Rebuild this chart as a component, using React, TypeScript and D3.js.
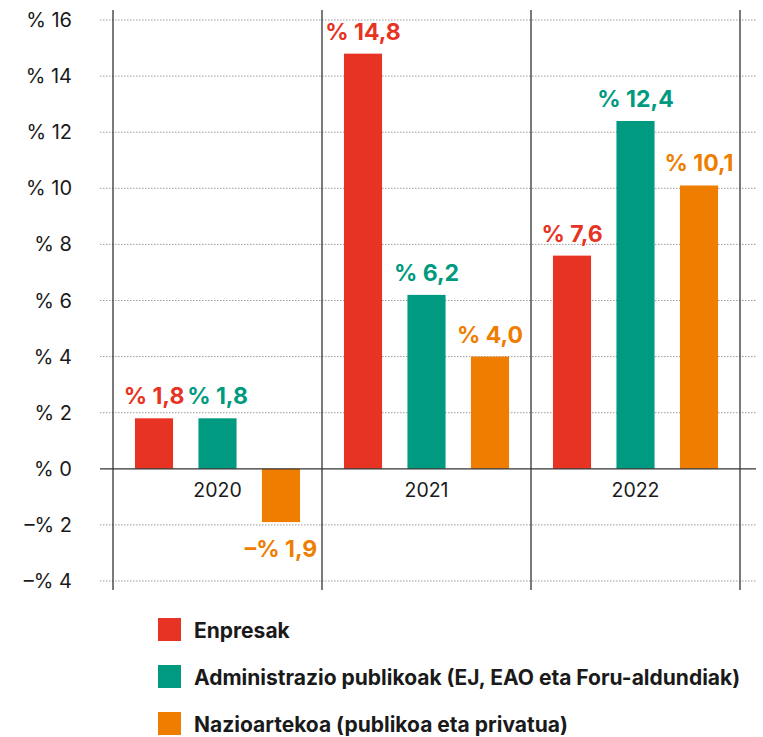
import React from 'react';
import * as d3 from 'd3';

const width = 763;
const height = 737;

const years = ['2020', '2021', '2022'];
const seriesNames = [
  'Enpresak',
  'Administrazio publikoak (EJ, EAO eta Foru-aldundiak)',
  'Nazioartekoa (publikoa eta privatua)',
];
const seriesColors = ['#e63323', '#009a80', '#ef7d00'];
const enpresak = [1.8, 14.8, 7.6];
const administrazioa = [1.8, 6.2, 12.4];
const nazioartekoa = [-1.9, 4.0, 10.1];
const yTicks = [-4, -2, 0, 2, 4, 6, 8, 10, 12, 14, 16];

const values = [enpresak, administrazioa, nazioartekoa];
const font = 'Inter, "Open Sans", sans-serif';

const fmt = (v: number, digits: number) => {
  const s = Math.abs(v).toFixed(digits).replace('.', ',');
  return (v < 0 ? '–% ' : '% ') + s;
};

export default function App() {
  const left = 113;
  const right = 740;
  const y = d3.scaleLinear().domain([-4, 16]).range([581, 20]);
  const x0 = d3.scaleBand<string>().domain(years).range([left, right]).padding(0);
  const x1 = d3
    .scaleBand<number>()
    .domain([0, 1, 2])
    .range([0, x0.bandwidth()])
    .paddingInner(0.4)
    .paddingOuter(0.346);

  const separators = [left, ...years.map((yr) => (x0(yr) as number) + x0.bandwidth())];

  return (
    <svg width={width} height={height} style={{ position: 'absolute', left: 0, top: 0 }}>
      {yTicks.map((t) => (
        <g key={t}>
          {t !== 0 && (
            <line
              x1={100}
              x2={756}
              y1={y(t)}
              y2={y(t)}
              stroke="#9a9a9a"
              strokeWidth={1}
              strokeDasharray="1.5,1.5"
            />
          )}
          <text
            x={72}
            y={y(t)}
            dy="0.35em"
            textAnchor="end"
            fontFamily={font}
            fontSize={20}
            fill="#1a1a1a"
          >
            {t === 0 ? '% 0' : fmt(t, 0)}
          </text>
        </g>
      ))}
      {separators.map((sx, i) => (
        <line key={i} x1={sx} x2={sx} y1={10} y2={590} stroke="#333" strokeWidth={1.3} />
      ))}
      {values.map((vals, si) =>
        vals.map((v, gi) => {
          const bx = (x0(years[gi]) as number) + (x1(si) as number);
          const bw = x1.bandwidth();
          const top = y(Math.max(0, v));
          const h = Math.abs(y(v) - y(0));
          const ly = v >= 0 ? y(v) - 14 : y(v) + 35;
          return (
            <g key={si + '-' + gi}>
              <rect x={bx} y={top} width={bw} height={h} fill={seriesColors[si]} />
              <text
                x={bx + bw / 2}
                y={ly}
                textAnchor="middle"
                fontFamily={font}
                fontWeight={700}
                fontSize={23}
                fill={seriesColors[si]}
              >
                {fmt(v, 1)}
              </text>
            </g>
          );
        })
      )}
      <line x1={100} x2={756} y1={y(0)} y2={y(0)} stroke="#333" strokeWidth={1.3} />
      {years.map((yr) => (
        <text
          key={yr}
          x={(x0(yr) as number) + x0.bandwidth() / 2}
          y={y(0) + 28}
          textAnchor="middle"
          fontFamily={font}
          fontSize={19.5}
          fill="#1a1a1a"
        >
          {yr}
        </text>
      ))}
      {seriesNames.map((name, i) => (
        <g key={name} transform={`translate(158, ${618 + i * 47})`}>
          <rect width={23} height={23} fill={seriesColors[i]} />
          <text x={36} y={20} fontFamily={font} fontWeight={700} fontSize={21} fill="#1a1a1a">
            {name}
          </text>
        </g>
      ))}
    </svg>
  );
}
